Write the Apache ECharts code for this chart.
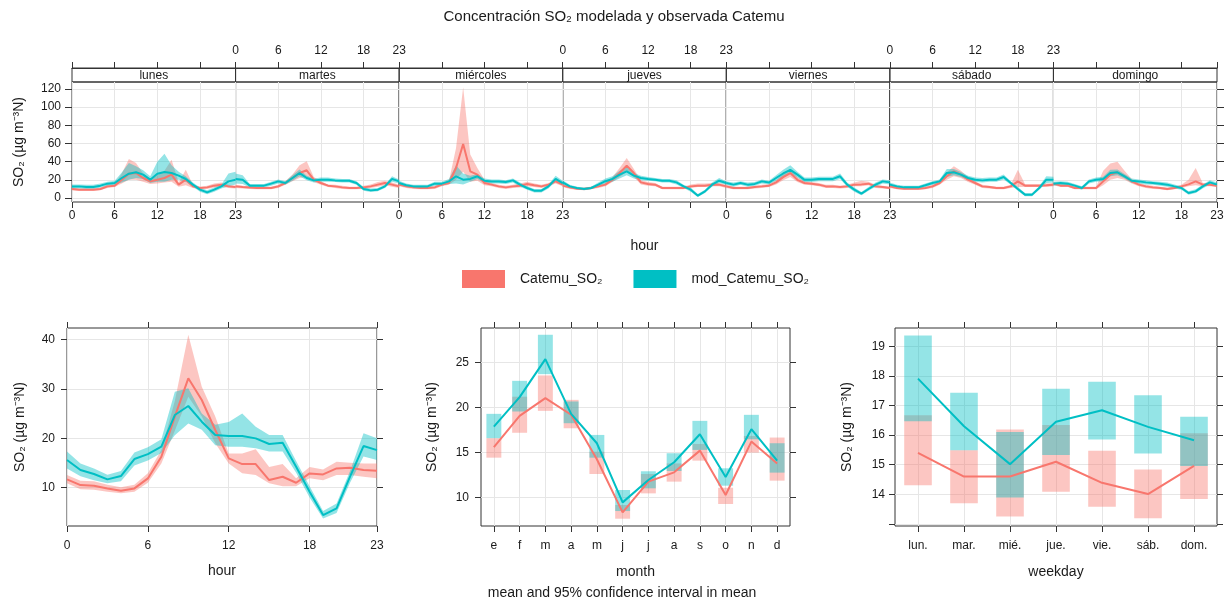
<!DOCTYPE html>
<html><head><meta charset="utf-8">
<script src="https://cdn.jsdelivr.net/npm/echarts@6/dist/echarts.min.js"></script>
<style>html,body{margin:0;padding:0;background:#fff}#c{width:1228px;height:603px}</style>
</head><body><div id="c"></div>
<script>
// ---------------- DATA ----------------
const days = ['lunes','martes','miércoles','jueves','viernes','sábado','domingo'];
const hours = [0,1,2,3,4,5,6,7,8,9,10,11,12,13,14,15,16,17,18,19,20,21,22,23];
const topYTicks = [0,20,40,60,80,100,120];

// observed (Catemu_SO2), by weekday x hour
const obsWeekMean = [
 [9.9,9.2,9.2,9.2,9.9,12.8,13.6,20.2,26.8,27.5,22,18.3,20.2,22,25.7,14.7,20.2,12.8,11,11.7,13.6,14.7,12.8,12.1],
 [12.8,12,11.5,11,11,11,12.8,16.5,22,27.5,30.5,20.2,16.5,13.6,12.8,11.7,11,11,11.7,12.8,14.7,16.5,14.7,12.8],
 [14.7,12.8,11.7,11,11,11.7,14.7,16.5,33,59.4,29.4,25.7,16.5,14.7,12.8,11.7,12.8,13.6,15.4,14,12.8,14.7,18.3,14.7],
 [13.6,11.7,10.3,9.9,11,12.8,14.7,20.2,27.5,35.6,27.5,17.2,15.4,14.7,11,11,11,11,12.8,13.6,13.6,14.7,14.7,12.8],
 [12.8,11,11,11,12.1,12.8,13.6,17.2,23,27.5,20,16.5,15.8,14.7,12.8,12.8,12.1,12.8,14.7,15,15.8,12.8,12.1,11],
 [12.8,11,10.3,10.3,10.3,11,12.8,16.5,23.9,29.4,25.7,20.2,16.5,12.8,12.1,11,11,12.8,18.3,13.6,13.6,13.6,14,14.7],
 [15.8,13.6,13.6,11,11,11,11,18.3,25.7,28.3,23.9,18.3,14.7,12.8,11.7,11,9.9,11,12.8,15,18.3,14.7,14.7,13.6]
];
const obsWeekLo = [
 [8.5,8,8,8,8.5,11,12,16,20,20,18,15.5,16,17,18,12.5,14,11,9.5,10,11.5,12.5,11,10.5],
 [11,10.5,10,9.5,9.5,9.5,11,14.5,18.5,22,23,17.5,14.5,12,11,10,9.5,9.5,10,11,12.5,14,12.5,11],
 [13,11,10,9.5,9.5,10,13,14.5,20,29,18,19,14,13,11,10,11,11.5,13,12,11,13,16,13],
 [12,10,9,8.5,9.5,11,13,17.5,23,29,23,15,13.5,13,9.5,9.5,9.5,9.5,11,12,12,13,13,11],
 [11,9.5,9.5,9.5,10.5,11,12,15,19.5,23,17.5,14.5,14,13,11,11,10.5,11,13,13,14,11,10.5,9.5],
 [11,9.5,9,9,9,9.5,11,14.5,20,24,22,17.5,14.5,11,10.5,9.5,9.5,11,12,12,12,12,12,13],
 [14,12,12,9.5,9.5,9.5,9.5,14,20,22,20,16,13,11,10,9.5,8.5,9.5,11,13,14,13,13,12]
];
const obsWeekHi = [
 [11.5,10.5,10.5,10.5,11.5,14.5,15.5,27,43,38.5,27,21,25,30,42,17,31,14.5,12.5,13.5,16,17,14.5,13.5],
 [14.5,13.5,13,12.5,12.5,12.5,14.5,18.5,26,36,40.4,23,18.5,15,14.5,13.5,12.5,12.5,13.5,15,17.5,19,17,14.5],
 [16.5,14.5,13.5,12.5,12.5,13.5,16.5,18.5,55,122,48,33,20,16.5,14.5,13.5,14.5,16,18,16,14.5,16.5,20.5,16.5],
 [15.5,13.5,11.5,11.5,12.5,14.5,16.5,23,33,44,32,19.5,17.5,16.5,12.5,12.5,12.5,12.5,15,16,16,16.5,16.5,14.5],
 [14.5,12.5,12.5,12.5,13.5,14.5,15.5,19.5,26.5,32,23,18.5,17.5,16.5,14.5,14.5,13.5,14.5,17,19,18,14.5,13.5,12.5],
 [14.5,12.5,11.5,11.5,11.5,12.5,14.5,18.5,28,35,30,23,18.5,14.5,13.5,12.5,12.5,14.5,31,15.5,15.5,15.5,16,16.5],
 [17.5,15.5,15.5,12.5,12.5,12.5,12.5,30,38,40,30,21,16.5,14.5,13.5,12.5,11.5,12.5,14.5,20,33,16.5,16.5,15]
];
// modelled (mod_Catemu_SO2), by weekday x hour
const modWeekMean = [
 [12.8,12.8,12.1,12.1,13.6,15.8,16.5,22,26.8,28.3,25.7,20.2,26.8,28.6,27.5,24.6,20.9,14.7,9.2,6.2,9.2,12.8,18.3,20.2],
 [21,20,13.6,13.6,13.6,15.8,18.3,16.5,22,27.5,22,19.4,20.2,20.2,19.4,19,19,16.5,9.9,8.4,9.2,12.8,21,18.3],
 [16.5,14,12.8,12.8,12.8,15.8,15.8,18.3,23.9,20.2,21,23.9,19,18.3,18.3,17.6,19.4,14.7,11,8.1,8.1,12.8,21,16.5],
 [17.2,12.8,11,9.9,11,14.7,18.5,21,25.7,29.4,24.6,22,21,20.2,19,19,17.2,12.8,9.2,2.6,7.3,14.7,19,16.5],
 [16.5,14.7,16.5,14.7,15.5,18.3,17,22,27,31,25.7,20,20,21,21,21,23.9,14.7,9.2,4.8,9.9,14.7,18.3,17.2],
 [14.7,12.8,11.7,11.7,11.7,14,16.5,18.3,27.5,28.3,25.7,22,20.2,19.4,20.2,20.2,23.1,16.5,9.9,3.7,3.7,11,20.2,20.2],
 [15.8,16.5,15.8,13.6,11,18.3,20.2,21,27.5,28.3,23.9,19,18.3,17.2,16.5,15.8,14.7,12.8,11,5.5,7.3,12.8,17.2,14.7]
];
const modWeekLo = [
 [10.5,10.5,10,10,11.5,13.5,14.5,17,20,22,21,16.5,18,18,20,20,18,12.5,7,4,7,10.5,13,15],
 [16,15.5,11.5,11.5,11.5,13.5,16,14.5,19,24,19.5,17,18,18,17.5,17,17,14.5,8,6.5,7.5,11,18,16],
 [14,12,11,11,11,13.5,13.5,15.5,16,15,18,21,16.5,16,16,15.5,17,12.5,9,6,6,10.5,18.5,14],
 [15,11,9.5,8.5,9.5,12.5,16,18,21.5,25,21.5,19.5,19,18.5,17,17,15,11,7,1,5.5,12.5,16.5,14.5],
 [14.5,12.5,14.5,12.5,13.5,16,15,19,23,27,22.5,17.5,17.5,18.5,18.5,18.5,21,12.5,7,3,8,12.5,16,15],
 [12.5,11,10,10,10,12,14.5,16,23,25,23,19.5,18,17,18,18,20.5,14.5,8,2,2,9,16.5,17],
 [13.5,14.5,13.5,11.5,9,16,18,18.5,24,25,21.5,16.5,16,15,14.5,13.5,12.5,10.5,9,3.5,5.5,10.5,15,12.5]
];
const modWeekHi = [
 [15,15,14.5,14.5,16,18,19,28,38.5,35,30.5,24,40,48.8,36,29,24,17,11.5,8.5,11.5,15,27,29],
 [27,25,15.5,15.5,15.5,18,20.5,18.5,25,31.5,24.5,21.5,22.5,22.5,21.5,21,21,18.5,12,10.5,11,14.5,24,20.5],
 [19,16,14.5,14.5,14.5,18,18,21,36,27,24.5,26.5,21.5,20.5,20.5,19.5,21.5,17,13,10,10,15,24.5,19],
 [19.5,14.5,12.5,11.5,12.5,17,21.5,24,30,34,27.5,24.5,23,22,21,21,19.5,14.5,11.5,4.5,9,17,22,18.5],
 [18.5,17,18.5,17,17.5,20.5,19,25,31,36,29,22.5,22.5,23.5,23.5,23.5,27,17,11.5,6.5,12,17,20.5,19.5],
 [17,14.5,13.5,13.5,13.5,16,18.5,20.5,32,32,28.5,24.5,22.5,22,22.5,22.5,26,18.5,12,5.5,5.5,13,24,23.5],
 [18,18.5,18,15.5,13,20.5,22.5,23.5,31,31.5,26.5,21.5,20.5,19.5,18.5,18,17,15,13,7.5,9.5,15,19.5,17]
];

// hour of day
const obsHourMean = [11.68,10.53,10.4,9.86,9.39,9.86,11.88,16.26,24.36,32.11,27.73,21.66,15.93,14.78,14.78,11.54,12.22,11.0,12.89,12.69,13.9,14.04,13.57,13.43];
const obsHourLo   = [10.9,9.7,9.6,9.2,8.9,9.2,11.0,14.9,21.5,28.4,24.4,19.0,14.9,12.9,12.55,10.9,10.3,10.3,11.9,11.5,12.55,12.55,12.2,11.9];
const obsHourHi   = [12.55,11.4,11.3,10.6,10.1,10.6,12.9,17.6,27.5,40.9,30.4,24.4,16.9,16.9,17.75,14.2,14.8,11.9,14.2,13.7,15.25,15.05,14.9,14.9];
const modHourMean = [15.59,13.57,12.76,11.68,12.35,15.79,16.8,18.29,24.69,26.51,23.34,20.65,20.45,20.45,19.97,18.83,19.1,14.24,9.18,4.46,5.81,12.22,18.42,17.6];
const modHourLo   = [13.9,12.3,11.5,10.9,11.3,14.5,15.5,17.0,20.6,23.0,21.7,18.6,18.3,18.3,18.0,17.3,17.3,13.0,8.0,3.8,4.9,11.0,16.3,15.6];
const modHourHi   = [17.3,14.9,13.9,12.6,13.4,17.1,18.2,19.8,29.4,30.1,25.0,22.7,23.3,25.0,22.3,20.65,20.65,15.4,10.3,5.3,6.8,13.4,21.0,20.0];

// month
const months = ['e','f','m','a','m','j','j','a','s','o','n','d'];
const obsMonthMean = [15.6,19.07,21.04,19.2,14.26,8.37,11.78,12.81,15.22,10.3,16.22,13.8];
const obsMonthLo   = [14.44,17.2,19.63,17.7,12.63,7.67,10.48,11.78,14.11,9.3,15.0,11.89];
const obsMonthHi   = [16.6,21.2,23.56,20.85,15.1,9.19,12.63,13.8,15.96,11.1,16.85,16.67];
const modMonthMean = [17.89,21.15,25.37,19.3,16.04,9.48,11.96,13.93,17.04,12.3,17.6,14.1];
const modMonthLo   = [16.6,19.56,23.7,18.26,14.44,8.52,11.04,12.96,15.3,11.33,16.48,12.78];
const modMonthHi   = [19.3,22.96,28.07,20.67,16.96,10.85,12.93,14.93,18.52,13.26,19.19,16.04];

// weekday
const wdays = ['lun.','mar.','mié.','jue.','vie.','sáb.','dom.'];
const obsWdMean = [15.40,14.6,14.6,15.1,14.39,14.01,14.96];
const obsWdLo   = [14.31,13.7,13.25,14.09,13.58,13.19,13.84];
const obsWdHi   = [16.67,15.49,16.19,16.34,15.47,14.84,16.06];
const modWdMean = [17.91,16.30,15.02,16.45,16.84,16.28,15.83];
const modWdLo   = [16.47,15.49,13.89,15.33,15.85,15.38,14.96];
const modWdHi   = [19.37,17.43,16.11,17.57,17.80,17.35,16.62];

// ---------------- STYLE ----------------
const OBS = '#F8766D', MOD = '#00BFC4';
const OBS_F = 'rgba(248,118,109,0.42)', MOD_F = 'rgba(0,191,196,0.42)';
const TXT = '#1a1a1a', FR = '#333333', GC = '#e6e6e6';
const FONT = '"Liberation Sans", Arial, sans-serif';
const OBS_NAME = 'Catemu_SO₂', MOD_NAME = 'mod_Catemu_SO₂';
const YNAME = 'SO₂ (µg m⁻³N)';

const grids = [], xAxes = [], yAxes = [], series = [], graphics = [];
const lab = (extra) => Object.assign({fontSize: 12, color: TXT, fontFamily: FONT}, extra);

function bandSeries(xi, yi, xs, lo, hi, color) {
  return {type: 'custom', xAxisIndex: xi, yAxisIndex: yi, silent: true, clip: true,
    data: xs.map((x, i) => [x, lo[i], hi[i]]),
    renderItem: (params, api) => {
      if (params.dataIndex !== 0) return null;
      const up = [], dn = [];
      for (let i = 0; i < xs.length; i++) {
        up.push(api.coord([xs[i], hi[i]]));
        dn.push(api.coord([xs[i], lo[i]]));
      }
      return {type: 'polygon', shape: {points: up.concat(dn.reverse())}, style: {fill: color}};
    }};
}
function boxSeries(xi, yi, lo, hi, color, hw) {
  return {type: 'custom', xAxisIndex: xi, yAxisIndex: yi, silent: true,
    data: lo.map((v, i) => [i, v, hi[i]]),
    renderItem: (params, api) => {
      const x = api.value(0);
      const a = api.coord([x - hw, api.value(2)]);
      const b = api.coord([x + hw, api.value(1)]);
      return {type: 'rect', shape: {x: a[0], y: a[1], width: b[0] - a[0], height: b[1] - a[1]}, style: {fill: color}};
    }};
}
function lineSeries(name, xi, yi, xs, ys, color, w) {
  return {type: 'line', name, xAxisIndex: xi, yAxisIndex: yi, silent: true, symbol: 'none', showSymbol: false,
    data: xs.map((x, i) => [x, ys[i]]), lineStyle: {color, width: w}, itemStyle: {color}};
}

// ---------------- TOP: week x hour ----------------
const L0 = 72, R0 = 1217, W = (R0 - L0) / 7;
for (let d = 0; d < 7; d++) {
  const left = L0 + d * W;
  grids.push({left: left, top: 82, width: W, height: 120, show: true, borderColor: FR, borderWidth: 1});
  xAxes.push({gridIndex: d, type: 'value', position: 'bottom', min: 0, max: 23, interval: 6,
    axisLine: {show: false, onZero: false},
    axisTick: {show: true, length: 6, lineStyle: {color: FR}},
    axisLabel: lab({show: d % 2 === 0, margin: 8, showMinLabel: true, showMaxLabel: true}),
    splitLine: {show: true, lineStyle: {color: GC}}});
  xAxes.push({gridIndex: d, type: 'value', position: 'top', offset: 14, min: 0, max: 23, interval: 6,
    axisLine: {show: true, onZero: false, lineStyle: {color: FR}},
    axisTick: {show: true, length: 6, lineStyle: {color: FR}},
    axisLabel: lab({show: d % 2 === 1, margin: 11, showMinLabel: true, showMaxLabel: true}),
    splitLine: {show: false}});
  yAxes.push({gridIndex: d, type: 'value', position: d === 6 ? 'right' : 'left', min: -4.4, max: 127.7,
    axisLine: {show: false, onZero: false},
    axisTick: {show: d === 0 || d === 6, length: 7, customValues: topYTicks, lineStyle: {color: FR}},
    axisLabel: lab({show: d === 0, margin: 11, customValues: topYTicks}),
    splitLine: {show: true, lineStyle: {color: GC}}});
  graphics.push({type: 'rect', shape: {x: left, y: 68, width: W, height: 14},
    style: {fill: 'transparent', stroke: FR, lineWidth: 1}, silent: true});
  graphics.push({type: 'text', x: left + W / 2, y: 75.5,
    style: {text: days[d], fill: TXT, font: '12px ' + FONT, textAlign: 'center', textVerticalAlign: 'middle'}, silent: true});
  series.push(bandSeries(2 * d, d, hours, obsWeekLo[d], obsWeekHi[d], OBS_F));
  series.push(lineSeries(OBS_NAME, 2 * d, d, hours, obsWeekMean[d], OBS, 2));
  series.push(bandSeries(2 * d, d, hours, modWeekLo[d], modWeekHi[d], MOD_F));
  series.push(lineSeries(MOD_NAME, 2 * d, d, hours, modWeekMean[d], MOD, 2));
}

// ---------------- BOTTOM PANELS ----------------
const bottom = [
  {left: 67, width: 310, xmin: 0, xmax: 23, xint: 6, ymin: 2.26, ymax: 42.28, yt: [10,20,30,40], yl: [10,20,30,40], ym: 12},
  {left: 481, width: 309, xmin: -0.5, xmax: 11.5, xcv: [0,1,2,3,4,5,6,7,8,9,10,11], cats: months, ymin: 6.86, ymax: 28.82, yt: [10,15,20,25], yl: [10,15,20,25], ym: 12},
  {left: 895, width: 322, xmin: -0.5, xmax: 6.5, xcv: [0,1,2,3,4,5,6], cats: wdays, ymin: 12.93, ymax: 19.62, yt: [13,14,15,16,17,18,19], yl: [14,15,16,17,18,19], ym: 10}
];
bottom.forEach((p, k) => {
  const gi = 7 + k;
  grids.push({left: p.left, top: 328, width: p.width, height: 198, show: true, borderColor: FR, borderWidth: 1});
  const xb = {gridIndex: gi, type: 'value', position: 'bottom', min: p.xmin, max: p.xmax,
    axisLine: {show: false, onZero: false},
    axisTick: {show: true, length: 6, lineStyle: {color: FR}},
    axisLabel: lab({margin: 14}),
    splitLine: {show: true, lineStyle: {color: GC}}};
  const xt = {gridIndex: gi, type: 'value', position: 'top', min: p.xmin, max: p.xmax,
    axisLine: {show: false, onZero: false},
    axisTick: {show: true, length: 6, lineStyle: {color: FR}},
    axisLabel: {show: false}, splitLine: {show: false}};
  if (p.xint) {
    xb.interval = p.xint; xt.interval = p.xint;
  } else {
    xb.axisTick.customValues = p.xcv; xt.axisTick.customValues = p.xcv;
    xb.axisLabel.customValues = p.xcv;
    const cats = p.cats;
    xb.axisLabel.formatter = (v) => cats[Math.round(v)] || '';
  }
  xAxes.push(xb, xt);
  yAxes.push({gridIndex: gi, type: 'value', position: 'left', min: p.ymin, max: p.ymax,
    axisLine: {show: false, onZero: false},
    axisTick: {show: true, length: 6, customValues: p.yt, lineStyle: {color: FR}},
    axisLabel: lab({margin: p.ym, customValues: p.yl}),
    splitLine: {show: true, lineStyle: {color: GC}}});
  yAxes.push({gridIndex: gi, type: 'value', position: 'right', min: p.ymin, max: p.ymax,
    axisLine: {show: false, onZero: false},
    axisTick: {show: true, length: 6, customValues: p.yt, lineStyle: {color: FR}},
    axisLabel: {show: false}, splitLine: {show: false}});
});
// hour panel
series.push(bandSeries(14, 7, hours, obsHourLo, obsHourHi, OBS_F));
series.push(lineSeries(OBS_NAME, 14, 7, hours, obsHourMean, OBS, 2));
series.push(bandSeries(14, 7, hours, modHourLo, modHourHi, MOD_F));
series.push(lineSeries(MOD_NAME, 14, 7, hours, modHourMean, MOD, 2));
// month panel
const mIdx = months.map((m, i) => i);
series.push(boxSeries(16, 9, obsMonthLo, obsMonthHi, OBS_F, 0.29));
series.push(lineSeries(OBS_NAME, 16, 9, mIdx, obsMonthMean, OBS, 2));
series.push(boxSeries(16, 9, modMonthLo, modMonthHi, MOD_F, 0.29));
series.push(lineSeries(MOD_NAME, 16, 9, mIdx, modMonthMean, MOD, 2));
// weekday panel
const wIdx = wdays.map((m, i) => i);
series.push(boxSeries(18, 11, obsWdLo, obsWdHi, OBS_F, 0.3));
series.push(lineSeries(OBS_NAME, 18, 11, wIdx, obsWdMean, OBS, 2));
series.push(boxSeries(18, 11, modWdLo, modWdHi, MOD_F, 0.3));
series.push(lineSeries(MOD_NAME, 18, 11, wIdx, modWdMean, MOD, 2));

// ---------------- TITLES ----------------
function txt(t, x, y, size, rot) {
  graphics.push({type: 'text', x, y, rotation: rot || 0, silent: true,
    style: {text: t, fill: TXT, font: size + 'px ' + FONT, textAlign: 'center', textVerticalAlign: 'middle'}});
}
txt('hour', 644.5, 246, 14);
txt('hour', 222, 571, 14);
txt('month', 635.5, 572, 14);
txt('weekday', 1056, 572, 14);
txt('mean and 95% confidence interval in mean', 622, 593, 14);
txt(YNAME, 19, 142, 14, Math.PI / 2);
txt(YNAME, 20, 427, 14, Math.PI / 2);
txt(YNAME, 432, 427, 14, Math.PI / 2);
txt(YNAME, 847, 427, 14, Math.PI / 2);

const option = {
  animation: false,
  backgroundColor: '#ffffff',
  textStyle: {fontFamily: FONT},
  title: {text: 'Concentración SO₂ modelada y observada Catemu', left: 'center', top: 4,
    textStyle: {fontSize: 15, fontWeight: 'normal', color: TXT, fontFamily: FONT}},
  legend: {left: 457, top: 265, itemWidth: 43, itemHeight: 18, itemGap: 31, selectedMode: false,
    textStyle: {fontSize: 14, color: TXT, fontFamily: FONT, padding: [0, 0, 0, 10]},
    data: [{name: OBS_NAME, icon: 'rect', itemStyle: {color: OBS}},
           {name: MOD_NAME, icon: 'rect', itemStyle: {color: MOD}}]},
  grid: grids, xAxis: xAxes, yAxis: yAxes, series: series,
  graphic: graphics
};
const chart = echarts.init(document.getElementById('c'));
chart.setOption(option);
</script></body></html>
